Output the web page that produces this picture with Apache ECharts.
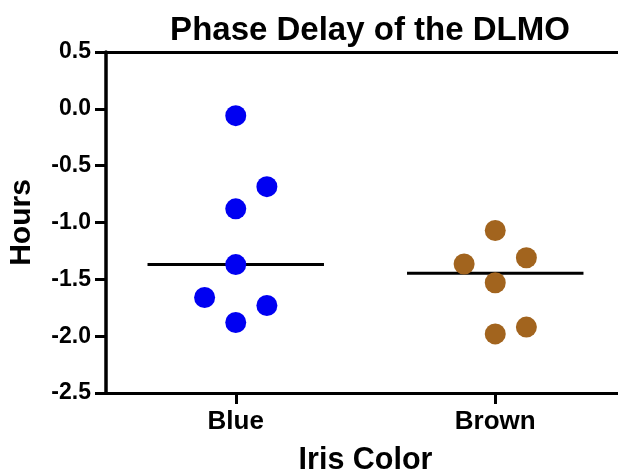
<!DOCTYPE html>
<html>
<head>
<meta charset="utf-8">
<script src="https://cdn.jsdelivr.net/npm/echarts@6/dist/echarts.min.js"></script>
<style>html,body{margin:0;padding:0;background:#fff}#c{width:618px;height:474px}</style>
</head>
<body>
<div id="c"></div>
<script>
const categories = ['Blue', 'Brown'];
const blueValues = [-0.06, -0.685, -0.88, -1.37, -1.66, -1.73, -1.88];
const blueJitter = [0, 0.12, 0, 0, -0.12, 0.12, 0];
const brownValues = [-1.07, -1.365, -1.31, -1.53, -1.92, -1.98];
const brownJitter = [0, -0.12, 0.12, 0, 0.12, 0];
const yTicks = [0.5, 0.0, -0.5, -1.0, -1.5, -2.0, -2.5];

function median(a) {
  const s = a.slice().sort((x, y) => x - y);
  const m = Math.floor(s.length / 2);
  return s.length % 2 ? s[m] : (s[m - 1] + s[m]) / 2;
}
const halfW = 0.34;
const font = 'Liberation Sans, Arial, sans-serif';
const chart = echarts.init(document.getElementById('c'), null, {renderer: 'canvas'});
const groups = [blueValues, brownValues];
const jit = [blueJitter, brownJitter];
const colors = ['#0000F2', '#A2641E'];
const series = [];
groups.forEach((vals, gi) => {
  const med = median(vals);
  series.push({
    type: 'line', xAxisIndex: 0, data: [[gi - halfW, med], [gi + halfW, med]],
    symbol: 'none', lineStyle: {color: '#000', width: 3}, z: 2, silent: true
  });
  series.push({
    type: 'scatter', xAxisIndex: 0, name: categories[gi],
    data: vals.map((v, i) => [gi + jit[gi][i], v]),
    symbolSize: 21, itemStyle: {color: colors[gi], opacity: 1}, z: 3
  });
});
chart.setOption({
  animation: false,
  title: {
    text: 'Phase Delay of the DLMO', left: 365, top: 9, textAlign: 'center',
    textStyle: {fontFamily: font, fontWeight: 'bold', fontSize: 33, color: '#000'}
  },
  grid: {left: 106, right: -7, top: 52, bottom: 81, containLabel: false, outerBoundsMode: 'none'},
  xAxis: [{
    type: 'value', min: -0.5, max: 1.5, position: 'bottom',
    name: 'Iris Color', nameLocation: 'middle', nameGap: 52,
    nameTextStyle: {fontFamily: font, fontWeight: 'bold', fontSize: 30.5, color: '#000'},
    splitLine: {show: false},
    axisLine: {show: true, onZero: false, lineStyle: {color: '#000', width: 3}},
    axisTick: {show: true, customValues: [0, 1], length: 11, lineStyle: {color: '#000', width: 3}},
    axisLabel: {
      show: true, customValues: [0, 1], margin: 16,
      formatter: v => categories[Math.round(v)] || '',
      fontFamily: font, fontWeight: 'bold', fontSize: 26, color: '#000'
    }
  }, {
    type: 'value', min: -0.5, max: 1.5, position: 'top',
    splitLine: {show: false}, axisTick: {show: false}, axisLabel: {show: false},
    axisLine: {show: true, onZero: false, lineStyle: {color: '#000', width: 3}}
  }],
  yAxis: {
    type: 'value', min: -2.5, max: 0.5, interval: 0.5,
    name: 'Hours', nameLocation: 'middle', nameGap: 69,
    nameTextStyle: {fontFamily: font, fontWeight: 'bold', fontSize: 30, color: '#000'},
    splitLine: {show: false},
    axisLine: {show: true, onZero: false, lineStyle: {color: '#000', width: 3.5}},
    axisTick: {show: true, length: 11, lineStyle: {color: '#000', width: 3}},
    axisLabel: {
      margin: 15, fontFamily: font, fontWeight: 'bold', fontSize: 23, color: '#000',
      formatter: v => v.toFixed(1)
    }
  },
  series: series
});
</script>
</body>
</html>
